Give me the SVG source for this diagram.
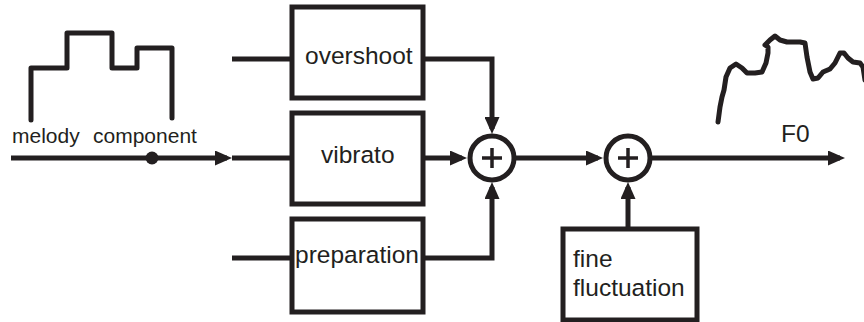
<svg xmlns="http://www.w3.org/2000/svg" width="864" height="322" viewBox="0 0 864 322">
  <style>
    .wire { fill: none; stroke: #231f20; stroke-width: 5; }
    .box { fill: #ffffff; stroke: #231f20; stroke-width: 5; }
    .sum { fill: #ffffff; stroke: #231f20; stroke-width: 5; }
    .plus { fill: none; stroke: #231f20; stroke-width: 3.5; }
    .lbl { font-family: "Liberation Sans", Arial, sans-serif; font-size: 24.5px; fill: #231f20; }
    .small { font-family: "Liberation Sans", Arial, sans-serif; font-size: 21px; fill: #231f20; }
    .curve { fill: none; stroke: #231f20; stroke-width: 5; stroke-linejoin: round; stroke-linecap: round; }
  </style>
  <defs>
    <marker id="arrow" markerUnits="userSpaceOnUse" markerWidth="18" markerHeight="15" refX="12" refY="7.5" orient="auto">
      <path d="M0,0 L17,7.5 L0,15 z" fill="#231f20"/>
    </marker>
  </defs>

  <!-- stepped melody contour -->
  <g id="melody">
    <path class="curve" stroke-linecap="butt" d="M31,120 V68 H67 V33 H112 V68 H137 V48 H172 V118"/>
    <text class="small" y="143"><tspan x="12">melody</tspan><tspan x="93">component</tspan></text>
  </g>

  <!-- resulting F0 contour -->
  <g id="f0-contour">
    <path class="curve" d="M718,122 L720,107 L722,97 L724,90 L726,77 L730,68 L736,64 L742,68 L747,73 L755,73 L762,72 L766,63 L768,53 L768,47 L765,45 L770,40 L775,36 L780,40 L787,42 L800,42 L805,43 L807,57 L810,72 L813,79 L818,78 L823,72 L830,69 L835,63 L840,53 L844,53 L848,58 L853,62 L860,63 L863,67 L865,80"/>
    <text class="lbl" x="781" y="142">F0</text>
  </g>

  <!-- connectors -->
  <g id="connectors">
    <path class="wire" d="M11,158 H227" marker-end="url(#arrow)"/>
    <circle cx="152" cy="158" r="6.5" fill="#231f20"/>
    <path class="wire" d="M232,59 H292"/>
    <path class="wire" d="M232,158 H292"/>
    <path class="wire" d="M232,258 H292"/>
    <path class="wire" d="M423,59 H492 V129" marker-end="url(#arrow)"/>
    <path class="wire" d="M423,158 H462" marker-end="url(#arrow)"/>
    <path class="wire" d="M423,258 H492 V187" marker-end="url(#arrow)"/>
    <path class="wire" d="M516,158 H598" marker-end="url(#arrow)"/>
    <path class="wire" d="M628,229 V187" marker-end="url(#arrow)"/>
    <path class="wire" d="M652,158 H840" marker-end="url(#arrow)"/>
  </g>

  <g id="overshoot">
    <rect class="box" x="292" y="7" width="131" height="91"/>
    <text class="lbl" x="305" y="64">overshoot</text>
  </g>
  <g id="vibrato">
    <rect class="box" x="292" y="113" width="131" height="91"/>
    <text class="lbl" x="321" y="163">vibrato</text>
  </g>
  <g id="preparation">
    <rect class="box" x="292" y="219" width="131" height="93"/>
    <text class="lbl" x="295" y="263">preparation</text>
  </g>
  <g id="fine-fluctuation">
    <rect class="box" x="563" y="229" width="134" height="91"/>
    <text class="lbl" x="573" y="267">fine</text>
    <text class="lbl" x="573" y="296">fluctuation</text>
  </g>

  <g id="sum1">
    <circle class="sum" cx="492" cy="158" r="22"/>
    <path class="plus" d="M482,158 H502 M492,148 V168"/>
  </g>
  <g id="sum2">
    <circle class="sum" cx="628" cy="158" r="22"/>
    <path class="plus" d="M618,158 H638 M628,148 V168"/>
  </g>
</svg>
